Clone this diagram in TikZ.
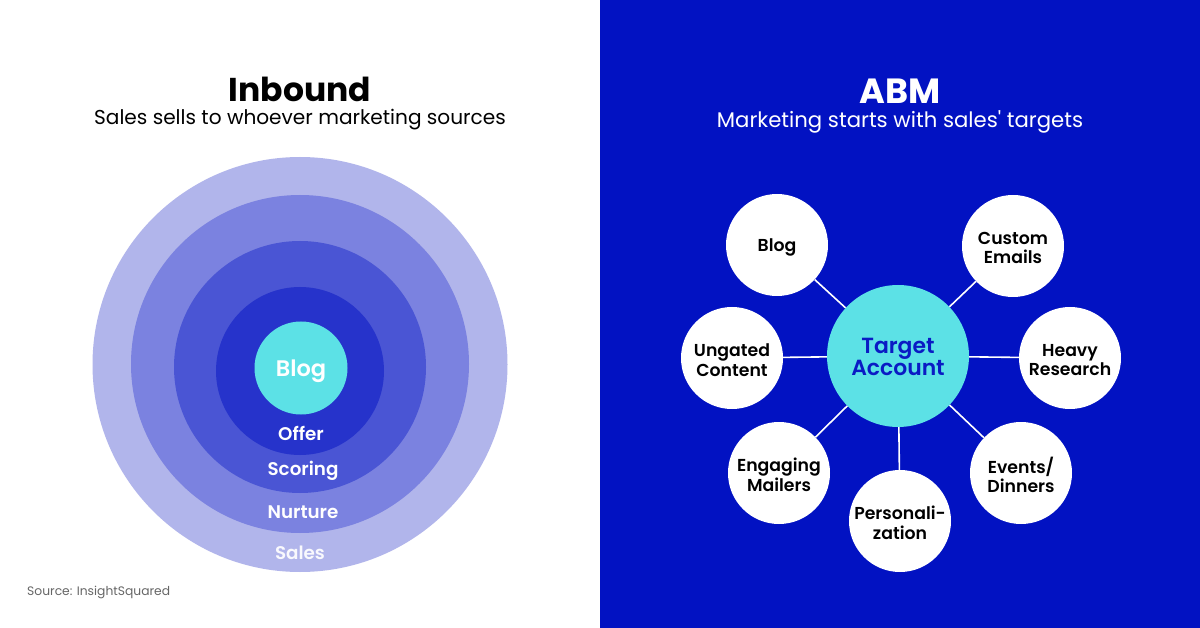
\documentclass[tikz,border=0pt]{standalone}
\usepackage{fontspec}
\setmainfont{Poppins}
\newfontfamily\psemi{Poppins SemiBold}
\newfontfamily\pbold{Poppins Bold}
\definecolor{abmblue}{HTML}{0212C2}
\definecolor{ringA}{HTML}{B1B5EB}
\definecolor{ringB}{HTML}{7B82E0}
\definecolor{ringC}{HTML}{4A55D4}
\definecolor{ringD}{HTML}{2633CB}
\definecolor{cyanc}{HTML}{5CE1E6}
\definecolor{srcgray}{HTML}{666666}
\definecolor{tgttext}{HTML}{0A1BC4}
\tikzset{
  sat/.style={circle, fill=white, minimum size=102pt, inner sep=0pt},
  sattext/.style={align=center, inner sep=0pt,
    font=\psemi\fontsize{17.3}{19.5}\selectfont, text=black},
  ringlabel/.style={font=\psemi\fontsize{18.3}{20}\selectfont, text=white, inner sep=0pt},
  link/.style={draw=white, line width=1.6pt},
  titletext/.style={inner sep=0pt},
}
\begin{document}
\begin{tikzpicture}[x=1pt,y=-1pt]
\useasboundingbox (0,0) rectangle (1200,628);
\fill[white] (0,0) rectangle (600,628);
\fill[abmblue] (600,0) rectangle (1200,628);
% Inbound
\node[titletext, font=\pbold\fontsize{33}{36}\selectfont] (intitle) at (300,89) {Inbound};
\node[titletext, font=\fontsize{20.1}{22}\selectfont] (insub) at (300,120) {Sales sells to whoever marketing sources};
\node[circle, fill=ringA, minimum size=415pt, inner sep=0pt] (r1) at (300,364.5) {};
\node[circle, fill=ringB, minimum size=338pt, inner sep=0pt] (r2) at (300,364) {};
\node[circle, fill=ringC, minimum size=252pt, inner sep=0pt] (r3) at (300,367) {};
\node[circle, fill=ringD, minimum size=168pt, inner sep=0pt] (r4) at (300,371) {};
\node[circle, fill=cyanc, minimum size=93pt, inner sep=0pt] (blogin) at (301,368) {};
\node[text=white, inner sep=0pt, font=\psemi\fontsize{22.5}{24}\selectfont] (blogintext) at ([yshift=-3pt]blogin) {Blog};
\node[ringlabel] (offer) at (301,433) {Offer};
\node[ringlabel] (scoring) at (303,471) {Scoring};
\node[ringlabel] (nurture) at (303,512) {Nurture};
\node[ringlabel, text=white!92!ringA] (sales) at (300,553) {Sales};
\node[font=\fontsize{12.3}{14}\selectfont, text=srcgray, anchor=west, inner sep=0pt] (src) at (27,592) {Source: InsightSquared};
% ABM
\node[titletext, font=\pbold\fontsize{35}{38}\selectfont, text=white] (abmtitle) at (900,91) {ABM};
\node[titletext, font=\fontsize{21.2}{24}\selectfont, text=white] (abmsub) at (900,122) {Marketing starts with sales\textquotesingle\ targets};
\node[circle, fill=cyanc, minimum size=142pt, inner sep=0pt] (ta) at (898,356) {};
\node[align=center, inner sep=0pt, text=tgttext,
  font=\psemi\fontsize{21.9}{22.5}\selectfont] (tatext) at ([yshift=-1pt]ta) {Target\\Account};
\node[sat] (blog) at (777,245) {};
\node[sat] (emails) at (1013,246) {};
\node[sat] (ungated) at (732,358) {};
\node[sat] (heavy) at (1070,358) {};
\node[sat] (mailers) at (779,473) {};
\node[sat] (pers) at (900,521) {};
\node[sat] (events) at (1021,473) {};
\foreach \s in {blog,emails,ungated,heavy,mailers,pers,events}
  \draw[link] (ta) -- (\s);
\node[sattext] (blogt) at ([yshift=-2pt]blog) {Blog};
\node[sattext] (emailst) at ([yshift=-2pt]emails) {Custom\\Emails};
\node[sattext] (ungatedt) at ([yshift=-2pt]ungated) {Ungated\\Content};
\node[sattext] (heavyt) at ([yshift=-2pt]heavy) {Heavy\\Research};
\node[sattext] (mailerst) at ([yshift=-2pt]mailers) {Engaging\\Mailers};
\node[sattext] (perst) at ([yshift=-2pt]pers) {Personali-\\zation};
\node[sattext] (eventst) at ([yshift=-2pt]events) {Events/\\Dinners};
\end{tikzpicture}
\end{document}
